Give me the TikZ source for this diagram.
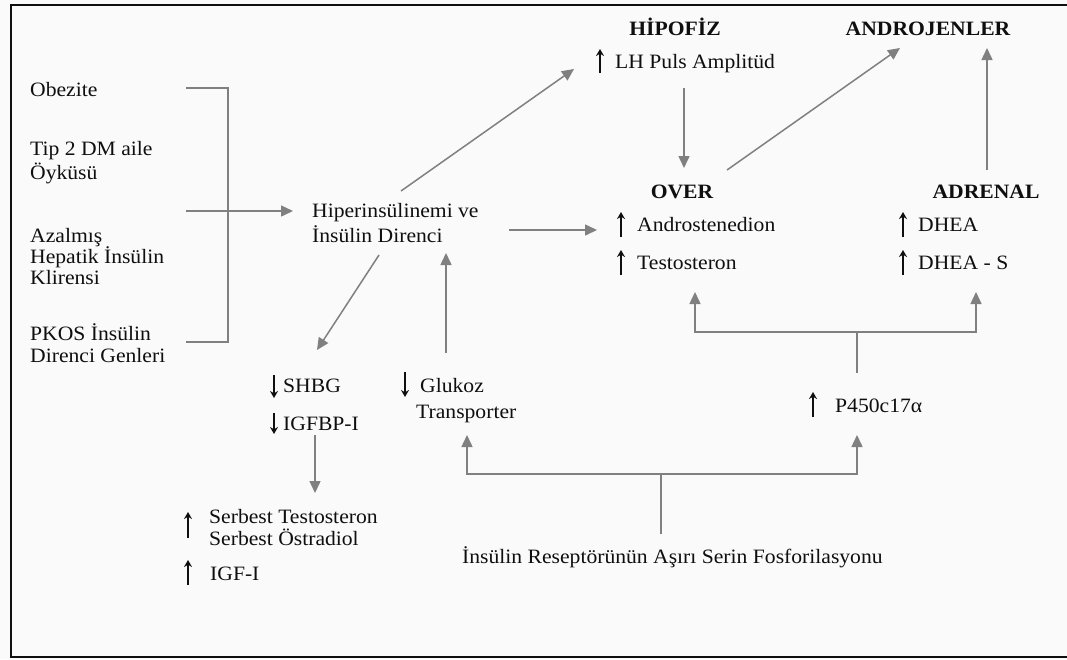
\documentclass[tikz,border=0pt]{standalone}
\usepackage{fontspec}
\setmainfont{Liberation Serif}[FakeStretch=1.06]
\usetikzlibrary{arrows.meta}
\definecolor{linkgrey}{RGB}{128,128,128}
\definecolor{paper}{RGB}{250,250,250}
\definecolor{ink}{RGB}{15,15,15}
\begin{document}
\begin{tikzpicture}[x=1pt,y=-1pt,
  lbl/.style={inner sep=0pt, anchor=base west, font=\fontsize{20.4}{22}\selectfont, text=ink},
  head/.style={inner sep=0pt, anchor=base, font=\fontsize{20.4}{22}\selectfont\bfseries, text=ink},
  link/.style={draw=linkgrey, line width=1.5pt},
  flow/.style={link, -{Triangle[length=12pt,width=11pt]}},
  trend/.style={draw=ink, line width=1.7pt, -{Stealth[length=7pt,width=8pt]}}]
\fill[paper] (0,0) rectangle (1067,659);
\useasboundingbox (0,0) rectangle (1067,659);
% frame (open on the right)
\draw[ink, line width=2pt] (1068,5) -- (11,5) -- (11,657) -- (1068,657);

% risk factors
\node[lbl] (obez)  at (30,96)  {Obezite};
\node[lbl] (tip1)  at (30,155) {Tip 2 DM aile};
\node[lbl] (tip2)  at (30,179) {Öyküsü};
\node[lbl] (aza1)  at (30,242) {Azalmış};
\node[lbl] (aza2)  at (30,263) {Hepatik İnsülin};
\node[lbl] (aza3)  at (30,284) {Klirensi};
\node[lbl] (pkos1) at (30,340) {PKOS İnsülin};
\node[lbl] (pkos2) at (30,362) {Direnci Genleri};

% central state
\node[lbl] (hip1) at (312,217) {Hiperinsülinemi ve};
\node[lbl] (hip2) at (312,242) {İnsülin Direnci};

% pituitary, ovary, adrenal, androgens
\node[head] (hipofiz) at (675,35)  {HİPOFİZ};
\node[lbl]  (lh)      at (615,68)  {LH Puls Amplitüd};
\node[head] (andro)   at (928,35)  {ANDROJENLER};
\node[head] (over)    at (682,198) {OVER};
\node[head] (adrenal) at (986,198) {ADRENAL};
\node[lbl]  (andst)   at (637,231) {Androstenedion};
\node[lbl]  (testo)   at (637,269) {Testosteron};
\node[lbl]  (dhea)    at (918,231) {DHEA};
\node[lbl]  (dheas)   at (918,269) {DHEA - S};
\node[lbl]  (p450)    at (835,412) {P450c17α};

% lower block
\node[lbl] (shbg)   at (283,392) {SHBG};
\node[lbl] (igfbp)  at (283,430) {IGFBP-I};
\node[lbl] (gluk)   at (420,392) {Glukoz};
\node[lbl] (trans)  at (416,418) {Transporter};
\node[lbl] (serb1)  at (209,523) {Serbest Testosteron};
\node[lbl] (serb2)  at (209,545) {Serbest Östradiol};
\node[lbl] (igf)    at (210,580) {IGF-I};
\node[lbl] (recept) at (462,563) {İnsülin Reseptörünün Aşırı Serin Fosforilasyonu};

% increase / decrease marks
\draw[trend] (600,73)  -- (600,49);
\draw[trend] (621,237) -- (621,212);
\draw[trend] (621,275) -- (621,250);
\draw[trend] (903,237) -- (903,212);
\draw[trend] (903,275) -- (903,250);
\draw[trend] (813,417) -- (813,392);
\draw[trend] (274,375) -- (274,398);
\draw[trend] (274,413) -- (274,434);
\draw[trend] (405,372) -- (405,397);
\draw[trend] (188,538) -- (188,512);
\draw[trend] (188,585) -- (188,560);

% connector end points
\coordinate (brT)  at (186,88);
\coordinate (brTc) at (228,88);
\coordinate (brBc) at (228,342);
\coordinate (brB)  at (186,342);
\coordinate (brM)  at (186,211);
\coordinate (hipIn) at (293,211);
\coordinate (hipNE) at (401,191);
\coordinate (lhIn)  at (574,69);
\coordinate (hipE)  at (509,230);
\coordinate (ovIn)  at (597,230);
\coordinate (hipSW) at (379,255);
\coordinate (shIn)  at (317,350);
\coordinate (glOut) at (446,353);
\coordinate (hipS)  at (446,253);
\coordinate (lhOut) at (684,88);
\coordinate (ovTop) at (684,168);
\coordinate (ovNE)  at (727,170);
\coordinate (anIn1) at (900,48);
\coordinate (adTop) at (987,170);
\coordinate (anIn2) at (987,48);
\coordinate (pStem) at (857,373);
\coordinate (pJn)   at (857,332);
\coordinate (pL)    at (695,332);
\coordinate (pR)    at (976,332);
\coordinate (teIn)  at (695,292);
\coordinate (dsIn)  at (976,292);
\coordinate (igOut) at (315,435);
\coordinate (seIn)  at (315,493);
\coordinate (rStem) at (661,534);
\coordinate (rJn)   at (661,474);
\coordinate (rL)    at (467,474);
\coordinate (rR)    at (857,474);
\coordinate (trIn)  at (467,435);
\coordinate (p4In)  at (857,435);

% connectors
\draw[link] (brT) -- (brTc) -- (brBc) -- (brB);
\draw[flow] (brM) -- (hipIn);
\draw[flow] (hipNE) -- (lhIn);
\draw[flow] (hipE) -- (ovIn);
\draw[flow] (hipSW) -- (shIn);
\draw[flow] (glOut) -- (hipS);
\draw[flow] (lhOut) -- (ovTop);
\draw[flow] (ovNE) -- (anIn1);
\draw[flow] (adTop) -- (anIn2);
\draw[link] (pStem) -- (pJn);
\draw[flow] (pJn) -- (pL) -- (teIn);
\draw[flow] (pJn) -- (pR) -- (dsIn);
\draw[flow] (igOut) -- (seIn);
\draw[link] (rStem) -- (rJn);
\draw[flow] (rJn) -- (rL) -- (trIn);
\draw[flow] (rJn) -- (rR) -- (p4In);
\end{tikzpicture}
\end{document}
